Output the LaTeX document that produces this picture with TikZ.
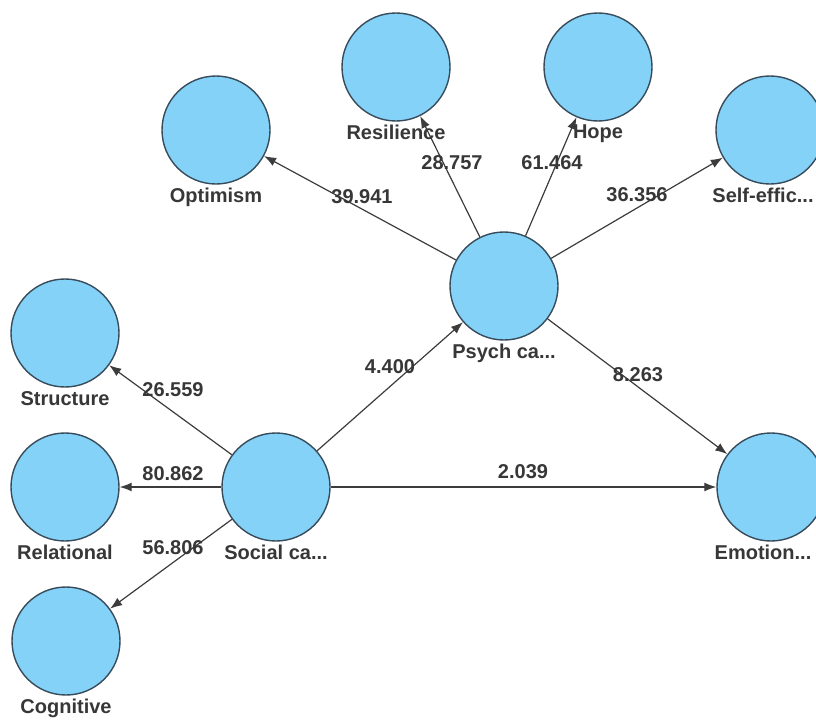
\documentclass[tikz,border=0pt]{standalone}
\usepackage{fontspec}
\setmainfont{Liberation Sans}
\usetikzlibrary{arrows.meta}
\definecolor{lv}{RGB}{132,210,248}
\definecolor{lvedge}{RGB}{55,75,90}
\definecolor{pathcol}{RGB}{60,60,60}
\definecolor{txt}{RGB}{55,55,55}

\begin{document}
\begin{tikzpicture}[x=1pt,y=-1pt]
      \tikzstyle latent=[circle, draw=lvedge, fill=lv, line width=1.4pt,
      minimum size=108pt, inner sep=0pt, label distance=3pt]
      \tikzstyle relation=[draw=pathcol, line width=1.2pt,
      -{Latex[length=12pt,width=9pt]}]
      \tikzstyle coef=[text=txt, font=\fontsize{20}{22}\selectfont\bfseries]
      \useasboundingbox (0,0) rectangle (816,720);
      \node [latent, label={[coef]below:Optimism}] (opt) at (216,130) {};
      \node [latent, label={[coef]below:Resilience}] (res) at (396,67) {};
      \node [latent, label={[coef]below:Hope}] (hope) at (598,67) {};
      \node [latent, label={[coef, xshift=-7pt]below:Self-effic...}] (self) at (770,130) {};
      \node [latent, label={[coef]below:Psych ca...}] (psych) at (504,286) {};
      \node [latent, label={[coef]below:Structure}] (struc) at (65,333) {};
      \node [latent, label={[coef]below:Relational}] (rel) at (65,487) {};
      \node [latent, label={[coef]below:Social ca...}] (soc) at (276,487) {};
      \node [latent, label={[coef]below:Cognitive}] (cog) at (66,641) {};
      \node [latent, label={[coef, xshift=-8pt]below:Emotion...}] (emo) at (771,487) {};
      \draw [relation] (psych) -- (opt);
      \draw [relation] (psych) -- (res);
      \draw [relation] (psych) -- (hope);
      \draw [relation] (psych) -- (self);
      \draw [relation] (psych) -- (emo);
      \draw [relation] (soc) -- (struc);
      \draw [relation] (soc) -- (rel);
      \draw [relation] (soc) -- (cog);
      \draw [relation] (soc) -- (psych);
      \draw [relation] (soc) -- (emo);
      \draw node [coef] at (362,197) {39.941};
      \draw node [coef] at (452,163) {28.757};
      \draw node [coef] at (552,163) {61.464};
      \draw node [coef] at (637,195) {36.356};
      \draw node [coef] at (638,375) {8.263};
      \draw node [coef] at (390,367) {4.400};
      \draw node [coef] at (523,472) {2.039};
      \draw node [coef] at (173,390) {26.559};
      \draw node [coef] at (173,474) {80.862};
      \draw node [coef] at (173,548) {56.806};
    \end{tikzpicture}
\end{document}
